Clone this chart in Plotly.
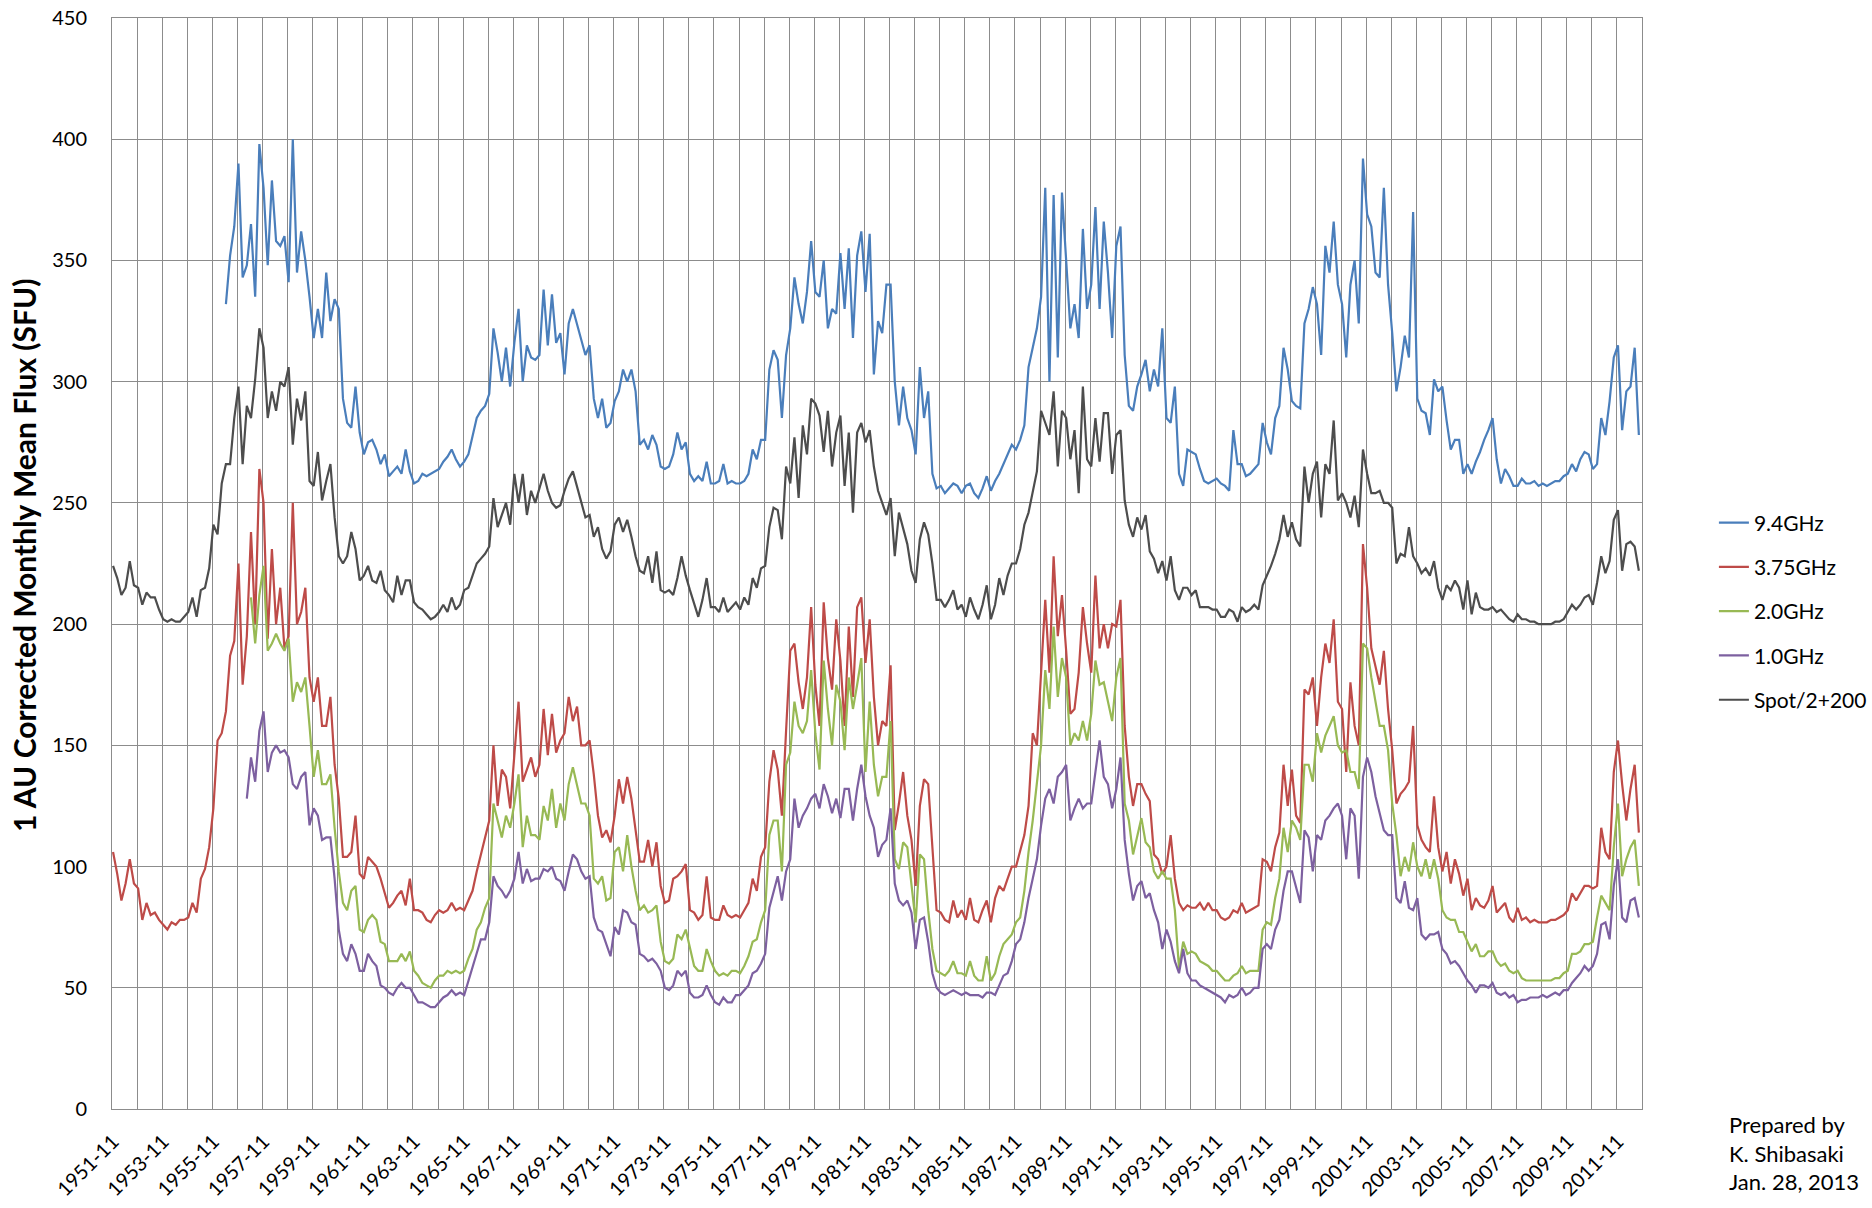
import plotly.graph_objects as go

# ---------------- data (bi-monthly samples, month index 0 = 1951-11) ----------------
months = list(range(0, 732, 2))

tick_months = list(range(0, 732, 24))
tick_labels = ["1951-11", "1953-11", "1955-11", "1957-11", "1959-11", "1961-11",
               "1963-11", "1965-11", "1967-11", "1969-11", "1971-11", "1973-11",
               "1975-11", "1977-11", "1979-11", "1981-11", "1983-11", "1985-11",
               "1987-11", "1989-11", "1991-11", "1993-11", "1995-11", "1997-11",
               "1999-11", "2001-11", "2003-11", "2005-11", "2007-11", "2009-11",
               "2011-11"]

flux_9_4 = [None] * 27 + [
    332, 352, 364,
    390, 343, 348, 365, 335, 398,
    380, 348, 383, 358, 356, 360,
    341, 400, 345, 362, 350, 335,
    318, 330, 318, 345, 325, 334,
    330, 293, 283, 281, 298, 279,
    270, 275, 276, 272, 266, 270,
    261, 263, 265, 262, 272, 263,
    258, 259, 262, 261, 262, 263,
    264, 267, 269, 272, 268, 265,
    267, 270, 277, 285, 288, 290,
    295, 322, 312, 300, 314, 298,
    316, 330, 300, 315, 310, 309,
    311, 338, 315, 336, 316, 320,
    303, 324, 330, 324, 318, 311,
    315, 293, 285, 293, 281, 283,
    292, 296, 305, 300, 305, 296,
    274, 276, 272, 278, 274, 265,
    264, 265, 270, 279, 272, 275,
    262, 259, 261, 259, 267, 258,
    258, 259, 266, 258, 259, 258,
    258, 259, 262, 272, 268, 276,
    276, 305, 313, 309, 285, 311,
    322, 343, 332, 324, 337, 358,
    337, 335, 350, 322, 330, 328,
    353, 330, 355, 318, 352, 362,
    337, 361, 303, 325, 320, 340,
    340, 300, 282, 298, 285, 280,
    270, 306, 285, 296, 262, 256,
    257, 254, 256, 258, 257, 254,
    257, 258, 254, 252, 256, 261,
    255, 259, 262, 266, 270, 274,
    272, 276, 282, 306, 314, 322,
    335, 380, 300, 377, 310, 378,
    350, 322, 332, 318, 363, 330,
    340, 372, 330, 366, 345, 318,
    356, 364, 311, 290, 288, 298,
    303, 309, 296, 305, 298, 322,
    285, 283, 298, 262, 257, 272,
    271, 270, 264, 259, 258, 259,
    260, 258, 257, 255, 280, 266,
    266, 261, 262, 264, 266, 283,
    275, 270, 285, 290, 314, 305,
    292, 290, 289, 324, 330, 339,
    332, 311, 356, 345, 366, 340,
    332, 310, 340, 350, 324, 392,
    369, 364, 345, 343, 380, 340,
    320, 296, 306, 319, 310, 370,
    293, 288, 287, 278, 301, 296,
    298, 284, 272, 276, 276, 262,
    266, 262, 267, 271, 276, 280,
    285, 268, 258, 264, 261, 257,
    257, 260, 258, 258, 259, 257,
    258, 257, 258, 259, 259, 261,
    262, 266, 263, 268, 271, 270,
    264, 266, 285, 278, 292, 310,
    315, 280, 296, 298, 314, 278,
]

flux_3_75 = [
    106, 97, 86, 93, 103, 93,
    91, 78, 85, 80, 81, 78,
    76, 74, 77, 76, 78, 78,
    79, 85, 81, 95, 99, 108,
    124, 152, 155, 164, 187, 193,
    225, 175, 195, 238, 200, 264,
    250, 194, 231, 200, 215, 190,
    195, 250, 200, 205, 215, 178,
    168, 178, 158, 158, 170, 142,
    128, 104, 104, 106, 121, 97,
    95, 104, 102, 100, 95, 89,
    83, 85, 88, 90, 84, 95,
    82, 82, 81, 78, 77, 80,
    82, 81, 82, 85, 82, 83,
    82, 86, 90, 98, 105, 112,
    119, 150, 125, 140, 137, 124,
    145, 168, 135, 140, 145, 137,
    142, 165, 146, 163, 147, 152,
    155, 170, 160, 166, 150, 150,
    152, 138, 121, 112, 115, 110,
    121, 136, 126, 137, 128, 115,
    102, 102, 111, 100, 110, 92,
    85, 86, 95, 96, 98, 101,
    82, 81, 78, 80, 96, 79,
    78, 78, 84, 80, 79, 80,
    79, 82, 85, 95, 90, 104,
    108, 135, 148, 140, 121, 156,
    189, 192, 176, 165, 178, 207,
    175, 158, 209, 186, 173, 202,
    185, 158, 199, 170, 207, 211,
    184, 202, 170, 150, 160, 158,
    183, 115, 126, 139, 121, 111,
    92, 125, 136, 134, 106, 82,
    81, 78, 77, 86, 79, 82,
    78, 87, 78, 77, 82, 86,
    77, 87, 92, 90, 95, 100,
    100, 106, 113, 125, 155, 150,
    180, 210, 180, 228, 195, 212,
    189, 163, 165, 180, 207, 192,
    180, 220, 190, 200, 190, 200,
    199, 210, 158, 137, 125, 134,
    134, 130, 127, 105, 103, 97,
    100, 113, 95, 85, 82, 84,
    83, 83, 85, 82, 85, 82,
    82, 79, 78, 79, 82, 81,
    85, 81, 82, 83, 84, 103,
    102, 98, 108, 114, 142, 125,
    140, 121, 118, 173, 171, 178,
    158, 178, 192, 184, 202, 168,
    165, 139, 176, 158, 150, 233,
    215, 190, 182, 175, 189, 165,
    148, 126, 130, 132, 135, 158,
    117, 111, 108, 106, 129, 108,
    98, 106, 93, 103, 97, 88,
    95, 82, 87, 84, 83, 86,
    92, 81, 83, 85, 79, 77,
    83, 78, 79, 77, 78, 77,
    77, 77, 78, 78, 79, 80,
    82, 89, 86, 89, 92, 92,
    91, 92, 116, 106, 103, 139,
    152, 134, 119, 132, 142, 114,
]

flux_2_0 = [None] * 33 + [
    211, 192, 212,
    224, 189, 192, 196, 192, 189,
    194, 168, 176, 172, 178, 158,
    137, 148, 134, 134, 138, 116,
    98, 85, 82, 90, 92, 74,
    73, 78, 80, 78, 69, 68,
    61, 61, 61, 64, 61, 65,
    57, 55, 52, 51, 50, 53,
    55, 55, 57, 56, 57, 56,
    57, 62, 66, 74, 77, 83,
    87, 126, 119, 112, 121, 116,
    126, 138, 108, 121, 113, 113,
    111, 125, 119, 132, 116, 126,
    119, 134, 141, 134, 126, 126,
    121, 95, 93, 96, 86, 87,
    106, 108, 98, 113, 100, 90,
    82, 84, 81, 82, 84, 69,
    61, 60, 62, 72, 70, 74,
    66, 59, 57, 57, 66, 61,
    57, 55, 56, 55, 57, 57,
    56, 59, 63, 69, 70, 77,
    82, 113, 119, 119, 98, 142,
    147, 168, 158, 155, 160, 181,
    155, 140, 185, 165, 150, 175,
    168, 148, 178, 165, 175, 186,
    139, 168, 142, 129, 137, 137,
    160, 103, 99, 110, 108, 92,
    77, 105, 103, 82, 66, 57,
    56, 55, 57, 61, 56, 56,
    55, 61, 55, 53, 53, 63,
    53, 56, 63, 68, 70, 72,
    77, 79, 90, 106, 119, 134,
    150, 181, 165, 199, 170, 186,
    178, 150, 155, 152, 160, 152,
    163, 185, 175, 176, 168, 160,
    178, 186, 126, 119, 105, 113,
    120, 110, 108, 98, 95, 98,
    95, 95, 82, 58, 69, 64,
    65, 64, 61, 60, 59, 57,
    57, 55, 53, 53, 55, 56,
    59, 56, 57, 57, 57, 74,
    77, 76, 87, 95, 116, 106,
    119, 116, 111, 142, 142, 135,
    155, 147, 154, 158, 162, 150,
    147, 148, 139, 139, 132, 192,
    190, 178, 168, 158, 158, 148,
    126, 113, 96, 104, 98, 110,
    100, 96, 103, 95, 103, 95,
    82, 79, 78, 78, 73, 73,
    69, 65, 68, 63, 63, 65,
    65, 61, 59, 60, 57, 56,
    57, 54, 53, 53, 53, 53,
    53, 53, 53, 54, 54, 56,
    57, 64, 64, 65, 68, 68,
    69, 79, 88, 85, 82, 108,
    126, 96, 103, 108, 111, 92,
]

flux_1_0 = [None] * 32 + [
    128, 145, 135, 156,
    164, 139, 147, 150, 147, 148,
    145, 134, 132, 137, 139, 117,
    124, 121, 111, 112, 112, 95,
    74, 64, 61, 68, 64, 57,
    57, 64, 61, 59, 51, 50,
    48, 47, 50, 52, 50, 50,
    47, 44, 44, 43, 42, 42,
    44, 46, 47, 49, 47, 48,
    47, 53, 59, 64, 70, 70,
    77, 96, 92, 90, 87, 90,
    95, 106, 93, 99, 94, 95,
    95, 99, 98, 100, 95, 94,
    90, 98, 105, 103, 98, 95,
    96, 79, 74, 73, 68, 63,
    75, 72, 82, 81, 77, 76,
    64, 63, 61, 62, 60, 57,
    50, 49, 51, 57, 55, 57,
    48, 46, 46, 47, 51, 47,
    44, 43, 46, 44, 44, 47,
    47, 49, 51, 56, 57, 60,
    64, 83, 90, 96, 86, 98,
    103, 128, 116, 121, 124, 128,
    130, 124, 134, 129, 122, 128,
    120, 132, 132, 119, 132, 142,
    129, 121, 116, 104, 109, 111,
    124, 93, 86, 84, 86, 81,
    66, 78, 79, 69, 56, 50,
    48, 47, 48, 49, 48, 47,
    48, 47, 47, 47, 46, 48,
    48, 47, 51, 55, 56, 61,
    68, 70, 77, 87, 95, 103,
    117, 128, 132, 126, 137, 139,
    142, 119, 124, 128, 124, 126,
    126, 140, 152, 137, 134, 124,
    132, 145, 111, 97, 86, 92,
    94, 87, 89, 82, 77, 66,
    74, 69, 61, 56, 66, 56,
    53, 53, 51, 50, 49, 48,
    47, 46, 44, 47, 46, 47,
    50, 47, 48, 50, 50, 66,
    68, 66, 74, 78, 90, 98,
    98, 91, 85, 115, 112, 98,
    113, 111, 119, 121, 124, 126,
    121, 103, 124, 121, 95, 137,
    145, 139, 129, 122, 115, 113,
    113, 87, 85, 94, 83, 82,
    87, 72, 70, 72, 72, 73,
    66, 64, 60, 61, 59, 56,
    53, 51, 48, 51, 51, 50,
    52, 48, 47, 48, 46, 47,
    44, 45, 45, 46, 46, 46,
    47, 46, 47, 48, 47, 49,
    49, 52, 54, 56, 59, 57,
    59, 64, 76, 77, 70, 92,
    103, 79, 77, 86, 87, 79,
]

spot_half_plus_200 = [
    224, 219, 212, 215, 226, 216,
    215, 208, 213, 211, 211, 206,
    202, 201, 202, 201, 201, 203,
    205, 211, 203, 214, 215, 223,
    241, 237, 258, 266, 266, 285,
    298, 266, 290, 285, 301, 322,
    314, 285, 296, 288, 300, 298,
    306, 274, 293, 284, 296, 259,
    257, 271, 251, 259, 266, 244,
    228, 225, 228, 238, 231, 218,
    220, 224, 218, 217, 222, 214,
    212, 209, 220, 212, 218, 218,
    209, 207, 206, 204, 202, 203,
    205, 208, 205, 211, 206, 208,
    214, 215, 220, 225, 227, 229,
    232, 252, 240, 245, 250, 241,
    262, 250, 262, 245, 255, 250,
    256, 262, 255, 250, 248, 249,
    255, 260, 263, 257, 251, 244,
    245, 236, 240, 231, 227, 230,
    241, 244, 238, 243, 236, 228,
    222, 221, 228, 217, 230, 214,
    213, 214, 212, 219, 228, 220,
    214, 208, 203, 210, 219, 207,
    207, 205, 211, 205, 207, 209,
    206, 211, 208, 219, 215, 223,
    224, 240, 248, 247, 235, 265,
    258, 277, 252, 282, 270, 293,
    291, 286, 271, 288, 265, 279,
    286, 257, 279, 246, 279, 283,
    275, 280, 265, 255, 250, 245,
    252, 228, 246, 239, 233, 222,
    217, 235, 242, 237, 225, 210,
    210, 207, 210, 214, 206, 208,
    203, 211, 206, 202, 208, 216,
    202, 208, 219, 212, 220, 225,
    225, 231, 241, 246, 255, 263,
    288, 283, 278, 296, 265, 288,
    285, 268, 280, 254, 298, 268,
    265, 285, 267, 287, 287, 262,
    278, 280, 251, 241, 236, 244,
    239, 245, 230, 227, 221, 226,
    218, 228, 214, 210, 215, 215,
    212, 214, 207, 207, 207, 206,
    206, 203, 203, 206, 205, 201,
    207, 205, 206, 208, 206, 216,
    220, 224, 229, 235, 245, 236,
    242, 235, 232, 265, 250, 262,
    267, 244, 266, 262, 284, 251,
    254, 250, 244, 253, 240, 272,
    262, 254, 254, 255, 250, 250,
    248, 225, 229, 228, 240, 228,
    225, 221, 223, 220, 226, 215,
    210, 216, 214, 218, 215, 206,
    218, 204, 213, 207, 206, 206,
    207, 205, 206, 204, 202, 201,
    204, 202, 202, 201, 201, 200,
    200, 200, 200, 201, 201, 202,
    205, 208, 206, 208, 211, 212,
    208, 217, 228, 221, 226, 243,
    247, 222, 233, 234, 232, 222,
]

series_names = ["9.4GHz", "3.75GHz", "2.0GHz", "1.0GHz", "Spot/2+200"]
series_values = [flux_9_4, flux_3_75, flux_2_0, flux_1_0, spot_half_plus_200]
series_colors = ["#4A7EBB", "#BE4B48", "#98B954", "#7D60A0", "#4D4D4D"]

FONT = "Lato, Carlito, 'Open Sans', sans-serif"
GRID = "#8C8C8C"

fig = go.Figure()
for name, vals, color in zip(series_names, series_values, series_colors):
    fig.add_trace(go.Scatter(
        x=months[:len(vals)], y=vals, mode="lines", name=name,
        legendgroup=name, line=dict(color=color, width=2.2),
        connectgaps=False, hoverinfo="x+y+name"))

fig.update_layout(
    width=1872, height=1208,
    margin=dict(l=112, r=230, t=18, b=99, autoexpand=False),
    paper_bgcolor="white", plot_bgcolor="white",
    font=dict(family=FONT, color="#000000"),
    showlegend=True,
    legend=dict(x=1.047, xanchor="left", y=0.556, yanchor="top",
                font=dict(size=21, family=FONT, color="#000000"),
                tracegroupgap=14, bgcolor="rgba(0,0,0,0)", borderwidth=0,
                itemwidth=30),
    xaxis=dict(
        range=[-0.5, 731.5], tickmode="array", tickvals=tick_months,
        ticktext=tick_labels, tickangle=-45, showgrid=False, ticks="",
        zeroline=False, showline=True, linecolor=GRID, linewidth=1, mirror=True,
        tickfont=dict(size=20, family=FONT, color="#000000"),
        ticklabelstandoff=12,
        minor=dict(tickmode="linear", tick0=-0.5, dtick=12, showgrid=True,
                   gridcolor=GRID, gridwidth=1, ticks=""),
    ),
    yaxis=dict(
        range=[0, 450], tick0=0, dtick=50, showgrid=True, gridcolor=GRID,
        gridwidth=1, ticks="", zeroline=False, showline=True, linecolor=GRID,
        linewidth=1, mirror=True,
        tickfont=dict(size=20, family=FONT, color="#000000"),
        ticklabelstandoff=20,
    ),
    annotations=[
        dict(text="<b>1 AU Corrected Monthly Mean Flux (SFU)</b>",
             xref="paper", yref="paper", x=-0.0575, y=0.507,
             xanchor="center", yanchor="middle", textangle=-90,
             showarrow=False, font=dict(size=30, family=FONT, color="#000000")),
        dict(text="Prepared by<br>K. Shibasaki<br>Jan. 28, 2013",
             xref="paper", yref="paper", x=1.0555, y=0.0,
             xanchor="left", yanchor="top", align="left",
             showarrow=False, font=dict(size=22, family=FONT, color="#000000")),
    ],
)

fig.write_html("out.html")
